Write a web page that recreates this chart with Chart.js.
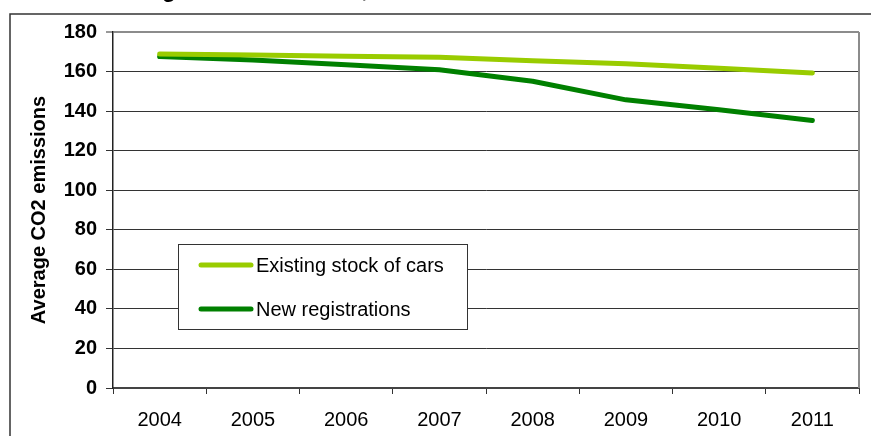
<!DOCTYPE html>
<html>
<head>
<meta charset="utf-8">
<title>Average CO2 emissions</title>
<script src="https://cdn.jsdelivr.net/npm/chart.js@4.4.1/dist/chart.umd.min.js"></script>
<style>
    html, body { margin: 0; padding: 0; background: #fff; }
    #co2Chart { display: block; }
</style>
</head>
<body>
<canvas id="co2Chart" width="871" height="436"></canvas>
<script>
// --- DATA ---
const years = ['2004', '2005', '2006', '2007', '2008', '2009', '2010', '2011'];
const existingStock = [168.9, 168.4, 167.8, 167.2, 165.5, 163.9, 161.7, 159.3];
const newRegistrations = [167.6, 165.9, 163.4, 160.9, 155.1, 145.7, 140.7, 135.3];
const yTicks = [0, 20, 40, 60, 80, 100, 120, 140, 160, 180];

const FONT = "'Liberation Sans', Arial, sans-serif";

document.addEventListener('DOMContentLoaded', () => {

    // --- FRAME, TITLE AND PLOT BORDER ---
    const framePlugin = {
        id: 'frame',
        beforeDraw(chart) {
            const c = chart.ctx;
            c.save();
            c.fillStyle = '#fff';
            c.fillRect(0, 0, chart.width, chart.height);
            // title sits above the visible area, only its descenders show
            c.fillStyle = '#000';
            c.font = 'bold 23px ' + FONT;
            c.textBaseline = 'alphabetic';
            c.fillText('Average CO2 emissions, 2004-2011', 99, -3);
            // outer chart border
            c.strokeStyle = '#333';
            c.lineWidth = 1.5;
            c.beginPath();
            c.moveTo(10, chart.height);
            c.lineTo(10, 14);
            c.lineTo(chart.width, 14);
            c.stroke();
            c.restore();
        },
        beforeDatasetsDraw(chart) {
            const {ctx: c, chartArea: a} = chart;
            c.save();
            c.strokeStyle = '#8c8c8c';
            c.lineWidth = 2;
            c.beginPath();
            c.moveTo(a.right, a.top);
            c.lineTo(a.right, a.bottom);
            c.stroke();
            c.restore();
        }
    };

    // --- LEGEND BOX INSIDE THE PLOT ---
    const boxLegend = {
        id: 'boxLegend',
        afterDatasetsDraw(chart) {
            const c = chart.ctx;
            const box = {x: 178, y: 244, w: 289, h: 85};
            c.save();
            c.fillStyle = '#fff';
            c.fillRect(box.x, box.y, box.w, box.h);
            c.strokeStyle = '#333';
            c.lineWidth = 1;
            c.strokeRect(box.x + 0.5, box.y + 0.5, box.w, box.h);
            c.font = '20px ' + FONT;
            c.textBaseline = 'middle';
            c.fillStyle = '#000';
            chart.data.datasets.forEach((ds, i) => {
                const y = 265 + i * 44;
                c.strokeStyle = ds.borderColor;
                c.lineWidth = 5;
                c.lineCap = 'round';
                c.beginPath();
                c.moveTo(201, y);
                c.lineTo(251, y);
                c.stroke();
                c.fillText(ds.label, 256, y + 1);
            });
            c.restore();
        }
    };

    new Chart(document.getElementById('co2Chart'), {
        type: 'line',
        data: {
            labels: years,
            datasets: [{
                label: 'Existing stock of cars',
                data: existingStock,
                borderColor: '#99cc00',
                borderWidth: 5,
                borderCapStyle: 'round',
                borderJoinStyle: 'round',
                pointRadius: 0,
                tension: 0,
                fill: false
            }, {
                label: 'New registrations',
                data: newRegistrations,
                borderColor: '#008000',
                borderWidth: 5,
                borderCapStyle: 'round',
                borderJoinStyle: 'round',
                pointRadius: 0,
                tension: 0,
                fill: false
            }]
        },
        options: {
            responsive: false,
            animation: false,
            layout: { padding: { top: 32, right: 12, bottom: 0, left: 0 } },
            plugins: {
                legend: { display: false },
                tooltip: { enabled: false }
            },
            scales: {
                x: {
                    offset: true,
                    afterFit(scale) { scale.height = 48; },
                    grid: {
                        offset: true,
                        drawOnChartArea: false,
                        tickLength: 6,
                        tickColor: '#333',
                        tickWidth: 1
                    },
                    border: { color: '#444', width: 2 },
                    ticks: {
                        color: '#000',
                        padding: 14,
                        maxRotation: 0,
                        font: { family: FONT, size: 20 }
                    }
                },
                y: {
                    min: 0,
                    max: 180,
                    afterFit(scale) { scale.width = 113; },
                    afterBuildTicks(scale) {
                        scale.ticks = yTicks.map(v => ({ value: v }));
                    },
                    grid: {
                        color: ctx => ctx.tick && ctx.tick.value === 180 ? '#8c8c8c' : '#333',
                        lineWidth: ctx => ctx.tick && ctx.tick.value === 180 ? 2 : 1,
                        tickLength: 7,
                        tickColor: '#333',
                        tickWidth: 1
                    },
                    border: { color: '#222', width: 1.5 },
                    ticks: {
                        color: '#000',
                        padding: 9,
                        font: { family: FONT, size: 20, weight: 'bold' }
                    },
                    title: {
                        display: true,
                        text: 'Average CO2 emissions',
                        color: '#000',
                        padding: { top: 27, bottom: 0 },
                        font: { family: FONT, size: 20, weight: 'bold' }
                    }
                }
            }
        },
        plugins: [framePlugin, boxLegend]
    });
});
</script>
</body>
</html>
